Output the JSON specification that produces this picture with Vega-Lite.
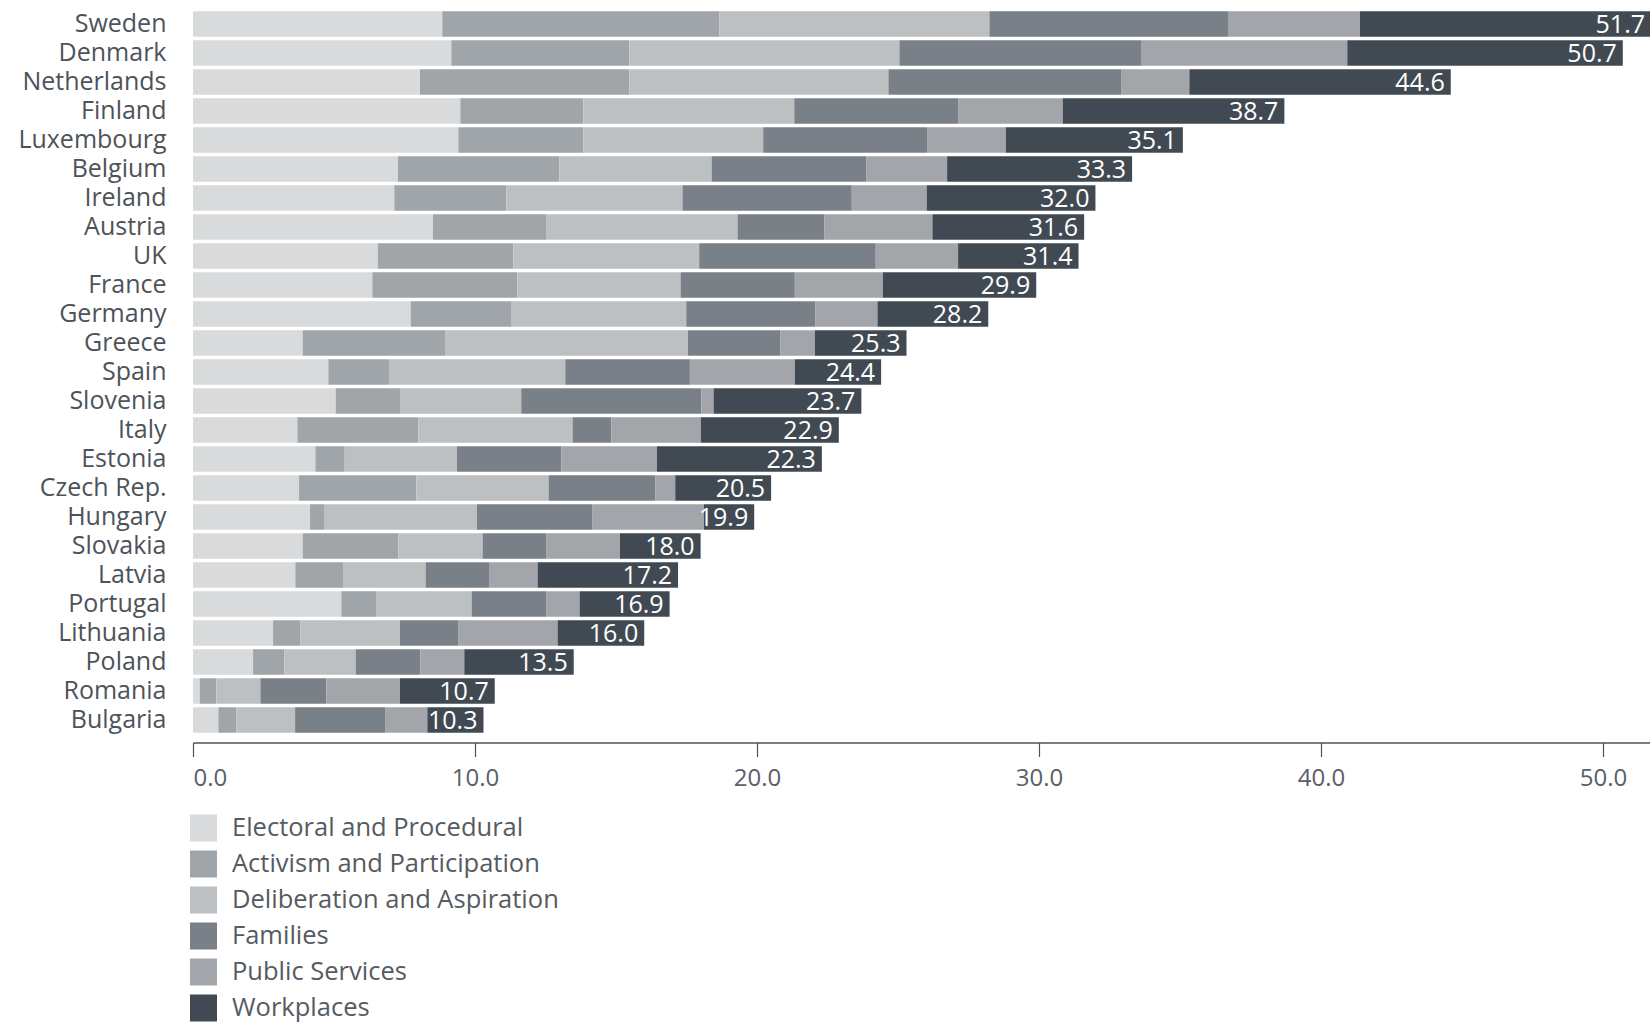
{
  "$schema": "https://vega.github.io/schema/vega-lite/v6.json",
  "autosize": {"type": "none"},
  "width": 1458,
  "height": 725,
  "padding": {"left": 193, "top": 9.5, "right": 0, "bottom": 289.5},
  "background": "white",
  "config": {
    "view": {"stroke": null},
    "font": "Open Sans"
  },
  "datasets": {
    "categories": [
      {"category": "Electoral and Procedural", "stackOrder": 1},
      {"category": "Activism and Participation", "stackOrder": 2},
      {"category": "Deliberation and Aspiration", "stackOrder": 3},
      {"category": "Families", "stackOrder": 4},
      {"category": "Public Services", "stackOrder": 5},
      {"category": "Workplaces", "stackOrder": 6}
    ],
    "segments": [
      {"country": "Sweden", "category": "Electoral and Procedural", "value": 8.84},
      {"country": "Sweden", "category": "Activism and Participation", "value": 9.82},
      {"country": "Sweden", "category": "Deliberation and Aspiration", "value": 9.58},
      {"country": "Sweden", "category": "Families", "value": 8.46},
      {"country": "Sweden", "category": "Public Services", "value": 4.68},
      {"country": "Sweden", "category": "Workplaces", "value": 10.32},
      {"country": "Denmark", "category": "Electoral and Procedural", "value": 9.16},
      {"country": "Denmark", "category": "Activism and Participation", "value": 6.31},
      {"country": "Denmark", "category": "Deliberation and Aspiration", "value": 9.58},
      {"country": "Denmark", "category": "Families", "value": 8.59},
      {"country": "Denmark", "category": "Public Services", "value": 7.29},
      {"country": "Denmark", "category": "Workplaces", "value": 9.77},
      {"country": "Netherlands", "category": "Electoral and Procedural", "value": 8.05},
      {"country": "Netherlands", "category": "Activism and Participation", "value": 7.42},
      {"country": "Netherlands", "category": "Deliberation and Aspiration", "value": 9.19},
      {"country": "Netherlands", "category": "Families", "value": 8.27},
      {"country": "Netherlands", "category": "Public Services", "value": 2.4},
      {"country": "Netherlands", "category": "Workplaces", "value": 9.27},
      {"country": "Finland", "category": "Electoral and Procedural", "value": 9.48},
      {"country": "Finland", "category": "Activism and Participation", "value": 4.36},
      {"country": "Finland", "category": "Deliberation and Aspiration", "value": 7.48},
      {"country": "Finland", "category": "Families", "value": 5.81},
      {"country": "Finland", "category": "Public Services", "value": 3.71},
      {"country": "Finland", "category": "Workplaces", "value": 7.86},
      {"country": "Luxembourg", "category": "Electoral and Procedural", "value": 9.41},
      {"country": "Luxembourg", "category": "Activism and Participation", "value": 4.43},
      {"country": "Luxembourg", "category": "Deliberation and Aspiration", "value": 6.38},
      {"country": "Luxembourg", "category": "Families", "value": 5.81},
      {"country": "Luxembourg", "category": "Public Services", "value": 2.79},
      {"country": "Luxembourg", "category": "Workplaces", "value": 6.28},
      {"country": "Belgium", "category": "Electoral and Procedural", "value": 7.27},
      {"country": "Belgium", "category": "Activism and Participation", "value": 5.72},
      {"country": "Belgium", "category": "Deliberation and Aspiration", "value": 5.4},
      {"country": "Belgium", "category": "Families", "value": 5.48},
      {"country": "Belgium", "category": "Public Services", "value": 2.87},
      {"country": "Belgium", "category": "Workplaces", "value": 6.56},
      {"country": "Ireland", "category": "Electoral and Procedural", "value": 7.14},
      {"country": "Ireland", "category": "Activism and Participation", "value": 3.97},
      {"country": "Ireland", "category": "Deliberation and Aspiration", "value": 6.25},
      {"country": "Ireland", "category": "Families", "value": 6.0},
      {"country": "Ireland", "category": "Public Services", "value": 2.66},
      {"country": "Ireland", "category": "Workplaces", "value": 5.98},
      {"country": "Austria", "category": "Electoral and Procedural", "value": 8.51},
      {"country": "Austria", "category": "Activism and Participation", "value": 4.03},
      {"country": "Austria", "category": "Deliberation and Aspiration", "value": 6.77},
      {"country": "Austria", "category": "Families", "value": 3.07},
      {"country": "Austria", "category": "Public Services", "value": 3.84},
      {"country": "Austria", "category": "Workplaces", "value": 5.38},
      {"country": "UK", "category": "Electoral and Procedural", "value": 6.55},
      {"country": "UK", "category": "Activism and Participation", "value": 4.81},
      {"country": "UK", "category": "Deliberation and Aspiration", "value": 6.59},
      {"country": "UK", "category": "Families", "value": 6.26},
      {"country": "UK", "category": "Public Services", "value": 2.92},
      {"country": "UK", "category": "Workplaces", "value": 4.27},
      {"country": "France", "category": "Electoral and Procedural", "value": 6.36},
      {"country": "France", "category": "Activism and Participation", "value": 5.14},
      {"country": "France", "category": "Deliberation and Aspiration", "value": 5.79},
      {"country": "France", "category": "Families", "value": 4.05},
      {"country": "France", "category": "Public Services", "value": 3.12},
      {"country": "France", "category": "Workplaces", "value": 5.44},
      {"country": "Germany", "category": "Electoral and Procedural", "value": 7.72},
      {"country": "Germany", "category": "Activism and Participation", "value": 3.58},
      {"country": "Germany", "category": "Deliberation and Aspiration", "value": 6.19},
      {"country": "Germany", "category": "Families", "value": 4.57},
      {"country": "Germany", "category": "Public Services", "value": 2.21},
      {"country": "Germany", "category": "Workplaces", "value": 3.93},
      {"country": "Greece", "category": "Electoral and Procedural", "value": 3.89},
      {"country": "Greece", "category": "Activism and Participation", "value": 5.07},
      {"country": "Greece", "category": "Deliberation and Aspiration", "value": 8.59},
      {"country": "Greece", "category": "Families", "value": 3.27},
      {"country": "Greece", "category": "Public Services", "value": 1.23},
      {"country": "Greece", "category": "Workplaces", "value": 3.25},
      {"country": "Spain", "category": "Electoral and Procedural", "value": 4.8},
      {"country": "Spain", "category": "Activism and Participation", "value": 2.15},
      {"country": "Spain", "category": "Deliberation and Aspiration", "value": 6.25},
      {"country": "Spain", "category": "Families", "value": 4.42},
      {"country": "Spain", "category": "Public Services", "value": 3.72},
      {"country": "Spain", "category": "Workplaces", "value": 3.06},
      {"country": "Slovenia", "category": "Electoral and Procedural", "value": 5.06},
      {"country": "Slovenia", "category": "Activism and Participation", "value": 2.28},
      {"country": "Slovenia", "category": "Deliberation and Aspiration", "value": 4.3},
      {"country": "Slovenia", "category": "Families", "value": 6.39},
      {"country": "Slovenia", "category": "Public Services", "value": 0.43},
      {"country": "Slovenia", "category": "Workplaces", "value": 5.24},
      {"country": "Italy", "category": "Electoral and Procedural", "value": 3.7},
      {"country": "Italy", "category": "Activism and Participation", "value": 4.29},
      {"country": "Italy", "category": "Deliberation and Aspiration", "value": 5.47},
      {"country": "Italy", "category": "Families", "value": 1.37},
      {"country": "Italy", "category": "Public Services", "value": 3.18},
      {"country": "Italy", "category": "Workplaces", "value": 4.89},
      {"country": "Estonia", "category": "Electoral and Procedural", "value": 4.34},
      {"country": "Estonia", "category": "Activism and Participation", "value": 1.04},
      {"country": "Estonia", "category": "Deliberation and Aspiration", "value": 3.98},
      {"country": "Estonia", "category": "Families", "value": 3.7},
      {"country": "Estonia", "category": "Public Services", "value": 3.39},
      {"country": "Estonia", "category": "Workplaces", "value": 5.85},
      {"country": "Czech Rep.", "category": "Electoral and Procedural", "value": 3.76},
      {"country": "Czech Rep.", "category": "Activism and Participation", "value": 4.16},
      {"country": "Czech Rep.", "category": "Deliberation and Aspiration", "value": 4.69},
      {"country": "Czech Rep.", "category": "Families", "value": 3.78},
      {"country": "Czech Rep.", "category": "Public Services", "value": 0.71},
      {"country": "Czech Rep.", "category": "Workplaces", "value": 3.4},
      {"country": "Hungary", "category": "Electoral and Procedural", "value": 4.15},
      {"country": "Hungary", "category": "Activism and Participation", "value": 0.52},
      {"country": "Hungary", "category": "Deliberation and Aspiration", "value": 5.4},
      {"country": "Hungary", "category": "Families", "value": 4.1},
      {"country": "Hungary", "category": "Public Services", "value": 3.95},
      {"country": "Hungary", "category": "Workplaces", "value": 1.78},
      {"country": "Slovakia", "category": "Electoral and Procedural", "value": 3.89},
      {"country": "Slovakia", "category": "Activism and Participation", "value": 3.39},
      {"country": "Slovakia", "category": "Deliberation and Aspiration", "value": 2.99},
      {"country": "Slovakia", "category": "Families", "value": 2.27},
      {"country": "Slovakia", "category": "Public Services", "value": 2.6},
      {"country": "Slovakia", "category": "Workplaces", "value": 2.86},
      {"country": "Latvia", "category": "Electoral and Procedural", "value": 3.63},
      {"country": "Latvia", "category": "Activism and Participation", "value": 1.69},
      {"country": "Latvia", "category": "Deliberation and Aspiration", "value": 2.93},
      {"country": "Latvia", "category": "Families", "value": 2.27},
      {"country": "Latvia", "category": "Public Services", "value": 1.7},
      {"country": "Latvia", "category": "Workplaces", "value": 4.98},
      {"country": "Portugal", "category": "Electoral and Procedural", "value": 5.26},
      {"country": "Portugal", "category": "Activism and Participation", "value": 1.23},
      {"country": "Portugal", "category": "Deliberation and Aspiration", "value": 3.39},
      {"country": "Portugal", "category": "Families", "value": 2.66},
      {"country": "Portugal", "category": "Public Services", "value": 1.17},
      {"country": "Portugal", "category": "Workplaces", "value": 3.19},
      {"country": "Lithuania", "category": "Electoral and Procedural", "value": 2.84},
      {"country": "Lithuania", "category": "Activism and Participation", "value": 0.96},
      {"country": "Lithuania", "category": "Deliberation and Aspiration", "value": 3.54},
      {"country": "Lithuania", "category": "Families", "value": 2.08},
      {"country": "Lithuania", "category": "Public Services", "value": 3.51},
      {"country": "Lithuania", "category": "Workplaces", "value": 3.07},
      {"country": "Poland", "category": "Electoral and Procedural", "value": 2.13},
      {"country": "Poland", "category": "Activism and Participation", "value": 1.11},
      {"country": "Poland", "category": "Deliberation and Aspiration", "value": 2.53},
      {"country": "Poland", "category": "Families", "value": 2.29},
      {"country": "Poland", "category": "Public Services", "value": 1.56},
      {"country": "Poland", "category": "Workplaces", "value": 3.88},
      {"country": "Romania", "category": "Electoral and Procedural", "value": 0.24},
      {"country": "Romania", "category": "Activism and Participation", "value": 0.59},
      {"country": "Romania", "category": "Deliberation and Aspiration", "value": 1.56},
      {"country": "Romania", "category": "Families", "value": 2.34},
      {"country": "Romania", "category": "Public Services", "value": 2.61},
      {"country": "Romania", "category": "Workplaces", "value": 3.36},
      {"country": "Bulgaria", "category": "Electoral and Procedural", "value": 0.9},
      {"country": "Bulgaria", "category": "Activism and Participation", "value": 0.64},
      {"country": "Bulgaria", "category": "Deliberation and Aspiration", "value": 2.08},
      {"country": "Bulgaria", "category": "Families", "value": 3.19},
      {"country": "Bulgaria", "category": "Public Services", "value": 1.5},
      {"country": "Bulgaria", "category": "Workplaces", "value": 1.99}
    ],
    "totals": [
      {"country": "Sweden", "total": 51.7},
      {"country": "Denmark", "total": 50.7},
      {"country": "Netherlands", "total": 44.6},
      {"country": "Finland", "total": 38.7},
      {"country": "Luxembourg", "total": 35.1},
      {"country": "Belgium", "total": 33.3},
      {"country": "Ireland", "total": 32.0},
      {"country": "Austria", "total": 31.6},
      {"country": "UK", "total": 31.4},
      {"country": "France", "total": 29.9},
      {"country": "Germany", "total": 28.2},
      {"country": "Greece", "total": 25.3},
      {"country": "Spain", "total": 24.4},
      {"country": "Slovenia", "total": 23.7},
      {"country": "Italy", "total": 22.9},
      {"country": "Estonia", "total": 22.3},
      {"country": "Czech Rep.", "total": 20.5},
      {"country": "Hungary", "total": 19.9},
      {"country": "Slovakia", "total": 18.0},
      {"country": "Latvia", "total": 17.2},
      {"country": "Portugal", "total": 16.9},
      {"country": "Lithuania", "total": 16.0},
      {"country": "Poland", "total": 13.5},
      {"country": "Romania", "total": 10.7},
      {"country": "Bulgaria", "total": 10.3}
    ]
  },
  "encoding": {
    "y": {
      "field": "country",
      "type": "nominal",
      "sort": ["Sweden", "Denmark", "Netherlands", "Finland", "Luxembourg", "Belgium", "Ireland", "Austria", "UK", "France", "Germany", "Greece", "Spain", "Slovenia", "Italy", "Estonia", "Czech Rep.", "Hungary", "Slovakia", "Latvia", "Portugal", "Lithuania", "Poland", "Romania", "Bulgaria"],
      "scale": {"paddingInner": 0.12, "paddingOuter": 0.06},
      "axis": {
        "title": null,
        "domain": false,
        "ticks": false,
        "labelPadding": 27,
        "labelFontSize": 25,
        "labelColor": "#4d5359",
        "labelFont": "Open Sans"
      }
    }
  },
  "layer": [
    {
      "data": {"name": "segments"},
      "transform": [
        {"lookup": "category", "from": {"data": {"name": "categories"}, "key": "category", "fields": ["stackOrder"]}}
      ],
      "mark": {"type": "bar"},
      "encoding": {
        "x": {
          "field": "value",
          "type": "quantitative",
          "stack": "zero",
          "scale": {"domain": [0, 51.7], "nice": false},
          "axis": {
            "title": null,
            "values": [0, 10, 20, 30, 40, 50],
            "format": ".1f",
            "grid": false,
            "offset": 8,
            "domainColor": "#4d5359",
            "domainWidth": 1.5,
            "tickColor": "#4d5359",
            "tickWidth": 1.2,
            "tickSize": 14,
            "labelPadding": 10,
            "labelFontSize": 24,
            "labelColor": "#5a6066",
            "labelFlush": true,
            "labelFont": "Open Sans"
          }
        },
        "order": {"field": "stackOrder", "type": "quantitative", "sort": "ascending"},
        "color": {
          "field": "category",
          "type": "nominal",
          "sort": ["Electoral and Procedural", "Activism and Participation", "Deliberation and Aspiration", "Families", "Public Services", "Workplaces"],
          "scale": {
            "domain": ["Electoral and Procedural", "Activism and Participation", "Deliberation and Aspiration", "Families", "Public Services", "Workplaces"],
            "range": ["#d9dadc", "#a0a5a9", "#bdc0c2", "#7a8087", "#a2a6aa", "#414a53"]
          },
          "legend": {
            "title": null,
            "orient": "none",
            "legendX": -3,
            "legendY": 805,
            "symbolType": "square",
            "symbolSize": 729,
            "symbolStrokeWidth": 0,
            "symbolOpacity": 1,
            "rowPadding": 9,
            "labelOffset": 15,
            "labelFontSize": 25.5,
            "labelColor": "#555b61",
            "labelFont": "Open Sans",
            "labelLimit": 600
          }
        }
      }
    },
    {
      "data": {"name": "totals"},
      "mark": {"type": "text", "align": "right", "baseline": "middle", "dx": -6, "dy": 1, "color": "white", "fontSize": 25, "font": "Open Sans"},
      "encoding": {
        "x": {"field": "total", "type": "quantitative"},
        "text": {"field": "total", "type": "quantitative", "format": ".1f"}
      }
    }
  ]
}
